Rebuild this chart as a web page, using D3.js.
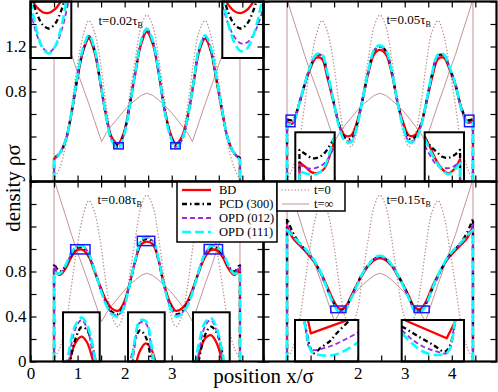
<!DOCTYPE html>
<html>
<head>
<meta charset="utf-8">
<script src="https://cdn.jsdelivr.net/npm/d3@7/dist/d3.min.js"></script>
<style>
html,body{margin:0;padding:0;background:#fff;}
svg{display:block}
svg text{font-family:"Liberation Serif","Times New Roman","DejaVu Serif",serif;}
</style>
</head>
<body>
<svg id="chart" width="498" height="392"></svg>
<script>
// ---------------- data ----------------
const xGrid = [0.50,0.62,0.75,0.87,0.99,1.12,1.24,1.36,1.49,1.61,1.73,1.86,1.98,2.10,2.23,2.35,2.47,2.60,2.72,2.84,2.97,3.09,3.21,3.34,3.46,3.58,3.71,3.83,3.95,4.08,4.20,4.33,4.45];
const tZero = [0.02,0.12,0.33,0.67,1.02,1.30,1.43,1.33,1.05,0.68,0.40,0.31,0.43,0.75,1.10,1.38,1.48,1.38,1.10,0.75,0.43,0.31,0.40,0.68,1.05,1.33,1.43,1.30,1.02,0.67,0.33,0.12,0.02];
const tInfX = [0.50,0.50,0.62,0.75,0.87,0.99,1.12,1.24,1.36,1.51,1.61,1.73,1.86,1.98,2.10,2.23,2.35,2.47,2.60,2.72,2.84,2.97,3.09,3.21,3.34,3.44,3.59,3.71,3.83,3.95,4.08,4.20,4.33,4.45,4.45];
const tInf  = [0,1.62,1.46,1.29,1.13,0.98,0.83,0.69,0.54,0.355,0.43,0.50,0.565,0.625,0.68,0.725,0.765,0.785,0.765,0.725,0.68,0.625,0.565,0.50,0.43,0.355,0.54,0.69,0.83,0.98,1.13,1.29,1.46,1.62,0];

// panel A: t = 0.02 tau_B
const A_BD     = [0.20,0.25,0.37,0.60,0.90,1.16,1.27,1.15,0.86,0.58,0.39,0.335,0.43,0.66,0.97,1.22,1.33,1.22,0.97,0.66,0.43,0.335,0.39,0.58,0.86,1.15,1.27,1.16,0.90,0.60,0.37,0.25,0.20];
const A_PCD    = [0.21,0.25,0.37,0.61,0.91,1.17,1.29,1.17,0.87,0.57,0.37,0.32,0.42,0.66,0.98,1.24,1.35,1.24,0.98,0.66,0.42,0.32,0.37,0.57,0.87,1.17,1.29,1.17,0.91,0.61,0.37,0.25,0.21];
const A_OPD012 = [0.20,0.25,0.37,0.61,0.92,1.18,1.29,1.17,0.87,0.57,0.37,0.30,0.41,0.65,0.98,1.24,1.35,1.24,0.98,0.65,0.41,0.30,0.37,0.57,0.87,1.17,1.29,1.18,0.92,0.61,0.37,0.25,0.20];
const A_OPD111 = [0.19,0.25,0.37,0.61,0.92,1.19,1.30,1.18,0.87,0.57,0.36,0.295,0.40,0.65,0.98,1.25,1.36,1.25,0.98,0.65,0.40,0.295,0.36,0.57,0.87,1.18,1.30,1.19,0.92,0.61,0.37,0.25,0.19];
// panel B: t = 0.05 tau_B
const B_BD     = [0.53,0.515,0.68,0.85,1.00,1.10,1.09,0.92,0.70,0.50,0.41,0.41,0.52,0.72,0.97,1.13,1.17,1.13,0.97,0.72,0.52,0.41,0.41,0.50,0.70,0.92,1.09,1.10,1.00,0.85,0.66,0.53,0.535];
const B_PCD    = [0.553,0.546,0.68,0.86,1.01,1.12,1.12,0.95,0.71,0.50,0.39,0.38,0.50,0.72,0.98,1.16,1.20,1.16,0.98,0.72,0.50,0.38,0.39,0.50,0.71,0.95,1.12,1.12,1.01,0.86,0.66,0.549,0.553];
const B_OPD012 = [0.522,0.525,0.68,0.86,1.01,1.12,1.12,0.95,0.71,0.49,0.37,0.36,0.49,0.72,0.98,1.16,1.20,1.16,0.98,0.72,0.49,0.36,0.37,0.49,0.71,0.95,1.12,1.12,1.01,0.86,0.64,0.522,0.529];
const B_OPD111 = [0.508,0.517,0.68,0.86,1.02,1.13,1.13,0.96,0.71,0.48,0.36,0.35,0.48,0.72,0.99,1.17,1.21,1.17,0.99,0.72,0.48,0.35,0.36,0.48,0.71,0.96,1.13,1.13,1.02,0.86,0.65,0.527,0.525];
// panel C: t = 0.08 tau_B
const C_BD     = [0.82,0.77,0.83,0.93,0.99,0.99,0.93,0.80,0.66,0.54,0.47,0.45,0.52,0.68,0.90,1.04,1.065,1.04,0.90,0.68,0.52,0.45,0.47,0.54,0.66,0.80,0.93,0.99,0.99,0.93,0.83,0.77,0.82];
const C_PCD    = [0.87,0.80,0.85,0.95,1.01,1.01,0.95,0.81,0.65,0.52,0.44,0.42,0.50,0.67,0.90,1.06,1.09,1.06,0.90,0.67,0.50,0.42,0.44,0.52,0.65,0.81,0.95,1.01,1.01,0.95,0.85,0.80,0.87];
const C_OPD012 = [0.85,0.79,0.85,0.96,1.02,1.02,0.96,0.81,0.64,0.51,0.43,0.41,0.49,0.67,0.91,1.07,1.10,1.07,0.91,0.67,0.49,0.41,0.43,0.51,0.64,0.81,0.96,1.02,1.02,0.96,0.85,0.79,0.85];
const C_OPD111 = [0.80,0.78,0.86,0.97,1.025,1.025,0.96,0.81,0.64,0.50,0.42,0.40,0.48,0.67,0.91,1.08,1.11,1.08,0.91,0.67,0.48,0.40,0.42,0.50,0.64,0.81,0.96,1.025,1.025,0.97,0.86,0.78,0.80];
// panel D: t = 0.15 tau_B
const D_BD     = [1.20,1.10,1.04,0.99,0.93,0.86,0.77,0.66,0.54,0.47,0.48,0.58,0.68,0.77,0.85,0.90,0.92,0.90,0.85,0.77,0.68,0.58,0.48,0.47,0.54,0.66,0.77,0.86,0.93,0.99,1.04,1.10,1.20];
const D_PCD    = [1.27,1.15,1.06,1.00,0.94,0.86,0.76,0.64,0.52,0.45,0.47,0.57,0.68,0.78,0.86,0.91,0.93,0.91,0.86,0.78,0.68,0.57,0.47,0.45,0.52,0.64,0.76,0.86,0.94,1.00,1.06,1.15,1.27];
const D_OPD012 = [1.22,1.12,1.05,1.00,0.94,0.86,0.76,0.64,0.52,0.45,0.46,0.56,0.67,0.78,0.86,0.91,0.93,0.91,0.86,0.78,0.67,0.56,0.46,0.45,0.52,0.64,0.76,0.86,0.94,1.00,1.05,1.12,1.22];
const D_OPD111 = [1.17,1.12,1.06,1.01,0.95,0.87,0.77,0.64,0.51,0.44,0.45,0.56,0.67,0.78,0.86,0.92,0.94,0.92,0.86,0.78,0.67,0.56,0.45,0.44,0.51,0.64,0.77,0.87,0.95,1.01,1.06,1.12,1.17];

// zoomed insets: window [x0, x1, y0, y1] and values
const insA1 = { win:[1.77,1.97,0.29,0.345], x:[1.77,1.80,1.83,1.86,1.89,1.92,1.95,1.98],
  BD:[0.349,0.3396,0.3346,0.3339,0.3375,0.3456,0.358,0.374],
  PCD:[0.3534,0.3339,0.3223,0.3187,0.3232,0.3358,0.3562,0.384],
  OPD012:[0.3360,0.3133,0.2999,0.2957,0.3009,0.3154,0.3393,0.372],
  OPD111:[0.3461,0.3170,0.2998,0.2944,0.3011,0.3197,0.3502,0.392] };
const insA2 = { win:[2.98,3.18,0.29,0.345], x:[2.98,3.01,3.04,3.07,3.10,3.13,3.16,3.19],
  BD:[0.3528,0.3417,0.3354,0.3337,0.3368,0.3446,0.3572,0.3744],
  PCD:[0.3534,0.3339,0.3223,0.3187,0.3232,0.3358,0.3562,0.3846],
  OPD012:[0.3414,0.3225,0.3102,0.3043,0.3051,0.3124,0.3262,0.3467],
  OPD111:[0.3501,0.3223,0.3045,0.2967,0.2991,0.3114,0.3338,0.3661] };
const insB1 = { win:[0.48,0.67,0.487,0.59], wall:'start', x:[0.50,0.53,0.56,0.59,0.62,0.65,0.68],
  BD:[0.528,0.517,0.506,0.505,0.514,0.546,0.59],
  PCD:[0.553,0.544,0.536,0.537,0.546,0.565,0.586],
  OPD012:[0.522,0.516,0.514,0.517,0.525,0.544,0.573],
  OPD111:[0.508,0.504,0.502,0.504,0.517,0.554,0.60] };
const insB2 = { win:[4.27,4.47,0.487,0.59], wall:'end', x:[4.27,4.30,4.33,4.36,4.39,4.42,4.45],
  BD:[0.5816,0.5565,0.5303,0.5126,0.5042,0.5126,0.5335],
  PCD:[0.5785,0.5607,0.5492,0.5387,0.5366,0.5419,0.5534],
  OPD012:[0.5628,0.5398,0.522,0.5157,0.5151,0.5195,0.5293],
  OPD111:[0.5774,0.5502,0.5272,0.5105,0.5021,0.5105,0.5251] };
const insC1 = { win:[0.854,1.264,0.956,1.038], x:[0.85,0.92,0.99,1.06,1.12,1.19,1.26],
  BD:[0.8925,0.9513,0.9863,0.9975,0.9885,0.9558,0.9003],
  PCD:[0.8643,0.9425,0.9922,1.0132,1.009,0.9775,0.9183],
  OPD012:[0.8747,0.959,1.0093,1.0252,1.0123,0.9653,0.8858],
  OPD111:[0.902,0.973,1.0157,1.0292,1.0183,0.9787,0.9115] };
const insC2 = { win:[2.27,2.64,1.03,1.113], x:[2.27,2.33,2.39,2.45,2.51,2.57,2.63],
  BD:[0.9477,1.0101,1.0477,1.0607,1.0489,1.0121,0.9514],
  PCD:[0.9936,1.0565,1.0825,1.071,1.0229,0.9369,0.8154],
  OPD012:[0.9455,1.0459,1.0955,1.0941,1.0427,0.9394,0.7874],
  OPD111:[0.9701,1.0565,1.099,1.098,1.0536,0.9647,0.8336] };
const insC3 = { win:[3.69,4.08,0.956,1.040], x:[3.69,3.75,3.82,3.88,3.94,4.01,4.07],
  BD:[0.9203,0.9656,0.9955,1.0009,0.9879,0.949,0.8966],
  PCD:[0.892,0.9562,1.0019,1.0156,1.0057,0.9644,0.904],
  OPD012:[0.899,0.9695,1.017,1.0269,1.0086,0.9509,0.8719],
  OPD111:[0.9272,0.9852,1.0234,1.0304,1.0139,0.964,0.8966] };
const insD1 = { win:[1.43,1.75,0.434,0.493], sharpBD:true,
  BD:[[1.4937,0.4958],[1.5094,0.4741],[1.6742,0.4906],[1.708,0.494]],
  PCD:[[1.478,0.4902],[1.4907,0.4731],[1.5058,0.4546],[1.5225,0.4456],[1.565,0.4546],[1.6069,0.4631],[1.6408,0.4741],[1.6994,0.4906]],
  OPD012:[[1.4806,0.493],[1.4891,0.467],[1.5008,0.4546],[1.5225,0.4503],[1.5715,0.4525],[1.6236,0.4574],[1.6828,0.4653],[1.7419,0.4741],[1.7636,0.4774]],
  OPD111:[[1.4755,0.493],[1.4806,0.4859],[1.5008,0.4575],[1.5144,0.4479],[1.5564,0.4432],[1.6236,0.4432],[1.6828,0.4496],[1.7419,0.4599],[1.7636,0.4646]] };
const insD2 = { win:[3.20,3.52,0.434,0.493], sharpBD:true,
  BD:[[3.19,0.4962],[3.2344,0.4906],[3.4311,0.467],[3.4738,0.4906],[3.4825,0.4958]],
  PCD:[[3.2,0.4838],[3.217,0.4812],[3.2873,0.4695],[3.3628,0.4574],[3.4224,0.4479],[3.4491,0.4574],[3.4655,0.4764],[3.4722,0.4902]],
  OPD012:[[3.2,0.4781],[3.2087,0.4764],[3.2565,0.4646],[3.3115,0.455],[3.3695,0.4489],[3.4311,0.4456],[3.4465,0.4503],[3.4594,0.4646],[3.4671,0.4816],[3.4722,0.493]],
  OPD111:[[3.2,0.4738],[3.2087,0.4717],[3.2565,0.4589],[3.3115,0.4479],[3.3798,0.4432],[3.4311,0.4461],[3.4491,0.4532],[3.4619,0.4688],[3.4696,0.4859],[3.4748,0.493]] };

const xTicks = [0,0.5,1,1.5,2,2.5,3,3.5,4,4.5];
const yTicks = [0,0.2,0.4,0.6,0.8,1.0,1.2,1.4,1.6];
const seriesKeys = ['BD','PCD','OPD012','OPD111'];
const seriesNames = ['BD','PCD (300)','OPD (012)','OPD (111)'];
const refNames = ['t=0','t=\u221E'];

// ---------------- styles / layout ----------------
const FONT = '"Liberation Serif","Times New Roman","DejaVu Serif",serif';
const ROSY = '#c29393';
const style = {
  BD:     {stroke:'#ff0000', w:2.3, dash:null},
  PCD:    {stroke:'#000000', w:2.3, dash:'5,3,1.5,3'},
  OPD012: {stroke:'#9a2be2', w:1.8, dash:'5,3'},
  OPD111: {stroke:'#00ffff', w:2.6, dash:'9,4'}
};
const svg = d3.select('#chart');
svg.append('rect').attr('width',498).attr('height',392).attr('fill','#fff');

const panels = [
  {id:'A', l:30.5, r:263.5, t:1.5, b:181.5, data:{BD:A_BD,PCD:A_PCD,OPD012:A_OPD012,OPD111:A_OPD111}, time:'0.02', tx:98.5, ty:25,
   insets:[[insA1,[30.5,1.5,71.3,58]],[insA2,[222.3,1.5,263.5,58]]], xLab:[], yLab:[0.8,1.2]},
  {id:'B', l:263.5, r:496.5, t:1.5, b:181.5, data:{BD:B_BD,PCD:B_PCD,OPD012:B_OPD012,OPD111:B_OPD111}, time:'0.05', tx:386.5, ty:24,
   insets:[[insB1,[295.3,132.3,334.7,181.5]],[insB2,[424.7,132.3,464,181.5]]], xLab:[], yLab:[]},
  {id:'C', l:30.5, r:263.5, t:181.5, b:361.5, data:{BD:C_BD,PCD:C_PCD,OPD012:C_OPD012,OPD111:C_OPD111}, time:'0.08', tx:97.5, ty:204,
   insets:[[insC1,[63,312.3,99.7,361.5]],[insC2,[128,312.3,164.7,361.5]],[insC3,[193,312.3,229.7,361.5]]], xLab:[0,1,2,3], yLab:[0,0.4,0.8]},
  {id:'D', l:263.5, r:496.5, t:181.5, b:361.5, data:{BD:D_BD,PCD:D_PCD,OPD012:D_OPD012,OPD111:D_OPD111}, time:'0.15', tx:386.5, ty:204,
   insets:[[insD1,[295,320,358.3,361.5]],[insD2,[401.7,320,464,361.5]]], xLab:[2,3,4], yLab:[]}
];

function styled(sel, s) {
  sel.attr('fill','none').attr('stroke',s.stroke).attr('stroke-width',s.w)
     .attr('stroke-dasharray',s.dash).attr('stroke-linejoin','round');
  return sel;
}
function wallPath(pts, base, wallStart, wallEnd, curve) {
  const body = d3.line().curve(curve)(pts);
  let p = wallStart ? `M${pts[0][0]},${base}L` + body.slice(1) : body;
  if (wallEnd) p += `L${pts[pts.length-1][0]},${base}`;
  return p;
}

panels.forEach((P, pi) => {
  const sx = d3.scaleLinear().domain([0,4.95]).range([P.l, P.r]);
  const sy = d3.scaleLinear().domain([0,1.6]).range([P.b, P.t]);
  const clipId = 'clip' + P.id;
  svg.append('clipPath').attr('id', clipId).append('rect')
    .attr('x',P.l).attr('y',P.t).attr('width',P.r-P.l).attr('height',P.b-P.t);
  const g = svg.append('g').attr('clip-path',`url(#${clipId})`);

  // reference curves
  g.append('path').attr('d', d3.line().curve(d3.curveCatmullRom.alpha(0.5))(xGrid.map((x,i)=>[sx(x), sy(tZero[i])])))
    .attr('fill','none').attr('stroke',ROSY).attr('stroke-width',1.5).attr('stroke-dasharray','0.1,3.2').attr('stroke-linecap','round');
  g.append('path').attr('d', d3.line()(tInfX.map((x,i)=>[sx(x), sy(tInf[i])])))
    .attr('fill','none').attr('stroke',ROSY).attr('stroke-width',1);

  // main series
  seriesKeys.forEach(k => {
    const pts = xGrid.map((x,i)=>[sx(x), sy(P.data[k][i])]);
    styled(g.append('path'), style[k]).attr('d', wallPath(pts, sy(0), true, true, d3.curveCatmullRom.alpha(0.5)));
  });

  // blue boxes
  P.insets.forEach(([ins]) => {
    g.append('rect').attr('x', sx(ins.win[0])).attr('y', sy(ins.win[3]))
      .attr('width', sx(ins.win[1]) - sx(ins.win[0])).attr('height', sy(ins.win[2]) - sy(ins.win[3]))
      .attr('fill','none').attr('stroke','#1a1aff').attr('stroke-width',1.5);
  });

  // annotation
  const tt = svg.append('text').attr('x',P.tx).attr('y',P.ty).attr('font-family',FONT).attr('font-size',13).attr('fill','#000');
  tt.append('tspan').text('t=' + P.time + '\u03C4');
  tt.append('tspan').attr('font-size',8).attr('dy',3).text('B');

  // insets
  P.insets.forEach(([ins, box], ii) => {
    const ix = d3.scaleLinear().domain([ins.win[0], ins.win[1]]).range([box[0], box[2]]);
    const iy = d3.scaleLinear().domain([ins.win[2], ins.win[3]]).range([box[3], box[1]]);
    const cid = `ic${P.id}${ii}`;
    svg.append('clipPath').attr('id', cid).append('rect')
      .attr('x',box[0]).attr('y',box[1]).attr('width',box[2]-box[0]).attr('height',box[3]-box[1]);
    svg.append('rect').attr('x',box[0]).attr('y',box[1]).attr('width',box[2]-box[0]).attr('height',box[3]-box[1]).attr('fill','#fff');
    const ig = svg.append('g').attr('clip-path',`url(#${cid})`);
    seriesKeys.forEach(k => {
      const raw = ins.x ? ins.x.map((x,i)=>[x, ins[k][i]]) : ins[k];
      const pts = raw.map(d => [ix(d[0]), iy(d[1])]);
      const curve = (ins.sharpBD && k === 'BD') ? d3.curveLinear : d3.curveCatmullRom.alpha(0.5);
      styled(ig.append('path'), style[k]).attr('d', wallPath(pts, box[3] + 40, ins.wall === 'start', ins.wall === 'end', curve));
    });
    svg.append('rect').attr('x',box[0]).attr('y',box[1]).attr('width',box[2]-box[0]).attr('height',box[3]-box[1])
      .attr('fill','none').attr('stroke','#000').attr('stroke-width',2);
  });

  // axes (inward ticks on four sides)
  const tickLen = 6;
  const fmt = v => String(v);
  const ax = [
    {a: d3.axisBottom(sx).tickValues(xTicks).tickSize(-tickLen).tickPadding(5)
          .tickFormat(v => P.xLab.includes(v) ? fmt(v) : ''), tr:`translate(0,${P.b})`},
    {a: d3.axisTop(sx).tickValues(xTicks).tickSize(-tickLen).tickFormat(''), tr:`translate(0,${P.t})`},
    {a: d3.axisLeft(sy).tickValues(yTicks).tickSize(-tickLen).tickPadding(4)
          .tickFormat(v => P.yLab.includes(v) ? fmt(v) : ''), tr:`translate(${P.l},0)`},
    {a: d3.axisRight(sy).tickValues(yTicks).tickSize(-tickLen).tickFormat(''), tr:`translate(${P.r},0)`}
  ];
  ax.forEach(o => {
    const ag = svg.append('g').attr('transform', o.tr).call(o.a);
    ag.attr('font-family', FONT);
    ag.select('.domain').remove();
    ag.selectAll('line').attr('stroke','#000').attr('stroke-width',1.2);
    ag.selectAll('text').attr('font-family',FONT).attr('font-size',17).attr('fill','#000');
  });

  // frame
  svg.append('rect').attr('x',P.l).attr('y',P.t).attr('width',P.r-P.l).attr('height',P.b-P.t)
    .attr('fill','none').attr('stroke','#000').attr('stroke-width',2.2);
});

// ---------------- legends ----------------
const lg1 = svg.append('g');
lg1.append('rect').attr('x',177).attr('y',182).attr('width',100).attr('height',60)
  .attr('fill','#fff').attr('stroke','#000').attr('stroke-width',1.5);
seriesKeys.forEach((k,i) => {
  const yy = 190 + i*14;
  styled(lg1.append('line'), style[k]).attr('x1',182).attr('x2',211).attr('y1',yy).attr('y2',yy);
  lg1.append('text').attr('x',219).attr('y',yy).attr('dy','0.35em').attr('font-family',FONT).attr('font-size',12.5).text(seriesNames[i]);
});
const lg2 = svg.append('g');
lg2.append('rect').attr('x',277).attr('y',182).attr('width',68).attr('height',29)
  .attr('fill','#fff').attr('stroke','#000').attr('stroke-width',1.5);
refNames.forEach((n,i) => {
  const yy = 190 + i*14;
  const ln = lg2.append('line').attr('x1',282).attr('x2',309).attr('y1',yy).attr('y2',yy).attr('stroke',ROSY);
  if (i === 0) ln.attr('stroke-width',1.5).attr('stroke-dasharray','0.1,3.2').attr('stroke-linecap','round');
  else ln.attr('stroke-width',1);
  lg2.append('text').attr('x',314).attr('y',yy).attr('dy','0.35em').attr('font-family',FONT).attr('font-size',12.5).text(n);
});

// ---------------- axis titles ----------------
svg.append('text').attr('x',263.5).attr('y',383).attr('text-anchor','middle')
  .attr('font-family',FONT).attr('font-size',21).text('position x/\u03C3');
svg.append('text').attr('transform','translate(19.5,188) rotate(-90)').attr('text-anchor','middle')
  .attr('font-family',FONT).attr('font-size',21).text('density \u03C1\u03C3');
</script>
</body>
</html>
